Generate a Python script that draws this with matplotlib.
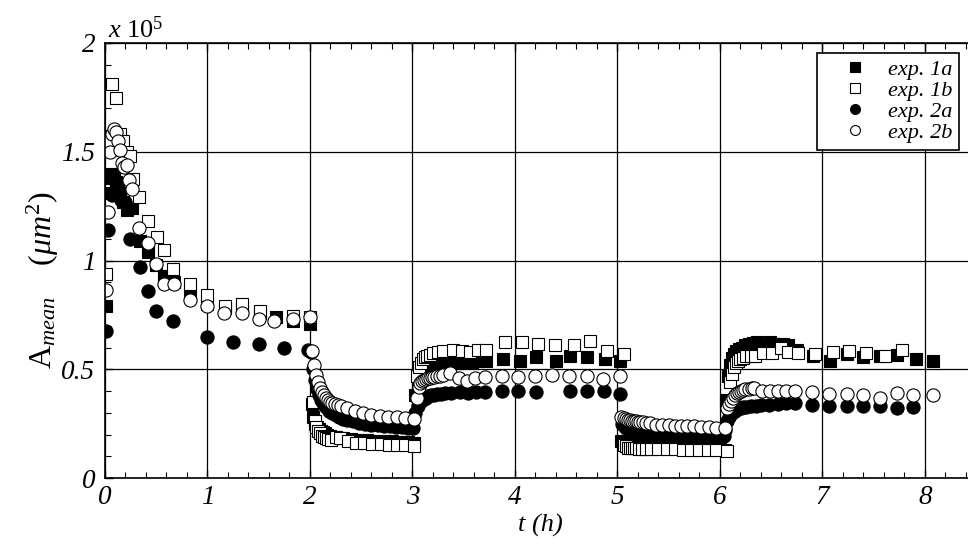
import matplotlib
matplotlib.use("Agg")
import matplotlib.pyplot as plt
from matplotlib.ticker import MultipleLocator, FormatStrFormatter

# mean cell area, in units of 1e5 um^2, vs time (h)
t_1a = [0.01, 0.03, 0.05, 0.07, 0.09, 0.11, 0.13, 0.15, 0.18, 0.21, 0.26, 0.34, 0.42, 0.50,
        0.58, 0.67, 0.83, 1.00, 1.17, 1.34, 1.51, 1.67, 1.83, 2.00,
        2.02, 2.03, 2.05, 2.07, 2.09, 2.11, 2.13, 2.15, 2.17, 2.20, 2.23, 2.27, 2.32, 2.40,
        2.48, 2.56, 2.64, 2.72, 2.80, 2.88, 2.96, 3.02,
        3.03, 3.05, 3.07, 3.09, 3.11, 3.13, 3.16, 3.19, 3.22, 3.26, 3.30, 3.35, 3.40, 3.46,
        3.52, 3.58, 3.64, 3.72, 3.88, 4.05, 4.21, 4.40, 4.54, 4.70, 4.88, 5.03,
        5.04, 5.06, 5.08, 5.10, 5.12, 5.15, 5.18, 5.21, 5.25, 5.30, 5.36, 5.44, 5.52, 5.60,
        5.68, 5.76, 5.84, 5.92, 6.00, 6.05,
        6.06, 6.08, 6.10, 6.12, 6.14, 6.16, 6.19, 6.22, 6.25, 6.28, 6.32, 6.36, 6.40, 6.45,
        6.49, 6.55, 6.62, 6.67, 6.75, 6.91, 7.08, 7.24, 7.40, 7.56, 7.73, 7.91, 8.08]
a_1a = [0.79, 1.31, 1.38, 1.40, 1.38, 1.36, 1.34, 1.31, 1.27, 1.23, 1.24, 1.09, 1.04, 0.98,
        0.93, 0.90, 0.84, 0.80, 0.78, 0.78, 0.76, 0.74, 0.72, 0.71,
        0.34, 0.28, 0.25, 0.235, 0.225, 0.215, 0.21, 0.205, 0.20, 0.195, 0.19, 0.185, 0.182, 0.178,
        0.175, 0.173, 0.171, 0.17, 0.168, 0.166, 0.165, 0.163,
        0.38, 0.44, 0.47, 0.49, 0.50, 0.51, 0.515, 0.52, 0.52, 0.525, 0.525, 0.53, 0.53, 0.53,
        0.535, 0.535, 0.54, 0.54, 0.545, 0.54, 0.555, 0.54, 0.56, 0.555, 0.545, 0.54,
        0.17, 0.16, 0.155, 0.155, 0.15, 0.15, 0.15, 0.148, 0.147, 0.146, 0.145, 0.145, 0.145, 0.144,
        0.143, 0.14, 0.14, 0.138, 0.14, 0.13,
        0.36, 0.47, 0.52, 0.55, 0.57, 0.585, 0.595, 0.60, 0.61, 0.615, 0.62, 0.625, 0.62, 0.62,
        0.625, 0.615, 0.615, 0.61, 0.59, 0.56, 0.54, 0.57, 0.555, 0.56, 0.565, 0.545, 0.54]

t_1b = [0.01, 0.04, 0.07, 0.11, 0.15, 0.18, 0.21, 0.24, 0.27, 0.33, 0.42, 0.51, 0.58, 0.66,
        0.83, 1.00, 1.17, 1.34, 1.51, 1.83, 2.00,
        2.03, 2.05, 2.06, 2.08, 2.10, 2.12, 2.14, 2.16, 2.18, 2.21, 2.25, 2.29, 2.37, 2.45,
        2.53, 2.61, 2.69, 2.77, 2.85, 2.93, 3.02,
        3.04, 3.06, 3.08, 3.10, 3.12, 3.14, 3.17, 3.20, 3.25, 3.30, 3.40, 3.48, 3.56, 3.64,
        3.72, 3.90, 4.07, 4.23, 4.39, 4.58, 4.73, 4.90, 5.06,
        5.06, 5.08, 5.10, 5.12, 5.14, 5.16, 5.18, 5.21, 5.24, 5.28, 5.33, 5.40, 5.48, 5.56,
        5.64, 5.72, 5.80, 5.88, 5.96, 6.07,
        6.10, 6.12, 6.14, 6.16, 6.18, 6.20, 6.23, 6.26, 6.30, 6.34, 6.42, 6.51, 6.60, 6.67,
        6.76, 6.93, 7.10, 7.26, 7.43, 7.61, 7.78]
a_1b = [0.94, 1.55, 1.81, 1.745, 1.58, 1.55, 1.50, 1.48, 1.375, 1.29, 1.18, 1.11, 1.05, 0.96,
        0.89, 0.84, 0.79, 0.80, 0.77, 0.745, 0.74,
        0.35, 0.26, 0.235, 0.215, 0.205, 0.195, 0.19, 0.185, 0.18, 0.175, 0.19, 0.183, 0.168, 0.163,
        0.16, 0.157, 0.155, 0.153, 0.152, 0.15, 0.148,
        0.47, 0.51, 0.53, 0.545, 0.555, 0.56, 0.565, 0.575, 0.58, 0.585, 0.59, 0.585, 0.58, 0.59,
        0.59, 0.625, 0.625, 0.615, 0.61, 0.61, 0.63, 0.585, 0.57,
        0.15, 0.145, 0.14, 0.14, 0.138, 0.137, 0.136, 0.135, 0.135, 0.134, 0.133, 0.133, 0.132, 0.132,
        0.131, 0.13, 0.13, 0.13, 0.128, 0.126,
        0.44, 0.48, 0.51, 0.53, 0.54, 0.545, 0.55, 0.56, 0.56, 0.56, 0.575, 0.575, 0.60, 0.58,
        0.575, 0.57, 0.58, 0.585, 0.575, 0.56, 0.59]

t_2a = [0.01, 0.03, 0.07, 0.11, 0.16, 0.20, 0.24, 0.34, 0.42, 0.50, 0.66, 1.00, 1.25, 1.50,
        1.75, 1.98,
        2.01, 2.03, 2.05, 2.07, 2.09, 2.11, 2.13, 2.15, 2.17, 2.19, 2.22, 2.25, 2.28, 2.32,
        2.36, 2.42, 2.48, 2.54, 2.60, 2.66, 2.72, 2.78, 2.84, 2.90, 2.96, 3.01,
        3.03, 3.05, 3.07, 3.09, 3.11, 3.13, 3.15, 3.18, 3.21, 3.24, 3.28, 3.32, 3.38, 3.46,
        3.54, 3.62, 3.71, 3.87, 4.03, 4.21, 4.54, 4.70, 4.87, 5.03,
        5.05, 5.07, 5.09, 5.11, 5.13, 5.15, 5.17, 5.20, 5.23, 5.26, 5.30, 5.35, 5.40, 5.46,
        5.52, 5.58, 5.64, 5.70, 5.76, 5.82, 5.88, 5.94, 6.00, 6.04,
        6.05, 6.07, 6.09, 6.11, 6.13, 6.15, 6.17, 6.19, 6.21, 6.23, 6.26, 6.30, 6.35, 6.40,
        6.48, 6.57, 6.65, 6.73, 6.90, 7.07, 7.24, 7.40, 7.56, 7.73, 7.89]
a_2a = [0.675, 1.14, 1.30, 1.33, 1.28, 1.27, 1.10, 0.97, 0.86, 0.77, 0.72, 0.65, 0.625, 0.615,
        0.60, 0.59,
        0.58, 0.50, 0.45, 0.41, 0.38, 0.36, 0.345, 0.33, 0.32, 0.31, 0.30, 0.29, 0.28, 0.27,
        0.265, 0.26, 0.255, 0.25, 0.245, 0.243, 0.24, 0.237, 0.235, 0.233, 0.23, 0.23,
        0.30, 0.33, 0.35, 0.36, 0.365, 0.37, 0.375, 0.38, 0.38, 0.385, 0.385, 0.39, 0.39, 0.395,
        0.39, 0.395, 0.395, 0.40, 0.40, 0.395, 0.40, 0.40, 0.40, 0.385,
        0.25, 0.235, 0.225, 0.22, 0.215, 0.212, 0.21, 0.208, 0.206, 0.205, 0.204, 0.203, 0.202, 0.20,
        0.20, 0.20, 0.198, 0.198, 0.197, 0.197, 0.196, 0.195, 0.196, 0.195,
        0.22, 0.26, 0.28, 0.295, 0.305, 0.31, 0.315, 0.32, 0.32, 0.325, 0.325, 0.33, 0.33, 0.335,
        0.335, 0.34, 0.345, 0.345, 0.335, 0.33, 0.33, 0.33, 0.33, 0.32, 0.325]

t_2b = [0.01, 0.03, 0.05, 0.07, 0.09, 0.11, 0.13, 0.15, 0.17, 0.19, 0.21, 0.23, 0.26, 0.33,
        0.42, 0.50, 0.58, 0.67, 0.83, 1.00, 1.16, 1.34, 1.50, 1.65, 1.83, 2.00,
        2.02, 2.04, 2.06, 2.08, 2.10, 2.12, 2.14, 2.16, 2.18, 2.20, 2.22, 2.24, 2.27, 2.30,
        2.36, 2.44, 2.52, 2.60, 2.68, 2.76, 2.85, 2.93, 3.02,
        3.04, 3.06, 3.07, 3.09, 3.11, 3.13, 3.15, 3.17, 3.19, 3.21, 3.24, 3.27, 3.30, 3.37,
        3.45, 3.53, 3.61, 3.71, 3.87, 4.03, 4.20, 4.36, 4.53, 4.70, 4.86, 5.03,
        5.04, 5.06, 5.08, 5.10, 5.12, 5.14, 5.16, 5.18, 5.20, 5.22, 5.25, 5.28, 5.32, 5.38,
        5.44, 5.50, 5.56, 5.62, 5.68, 5.75, 5.82, 5.89, 5.96, 6.05,
        6.07, 6.09, 6.11, 6.13, 6.15, 6.17, 6.19, 6.21, 6.23, 6.25, 6.28, 6.31, 6.33, 6.41,
        6.49, 6.57, 6.65, 6.73, 6.90, 7.07, 7.24, 7.40, 7.56, 7.73, 7.89, 8.08]
a_2b = [0.865, 1.225, 1.50, 1.58, 1.605, 1.59, 1.55, 1.51, 1.45, 1.43, 1.44, 1.37, 1.33, 1.15,
        1.08, 0.985, 0.89, 0.89, 0.82, 0.79, 0.76, 0.76, 0.73, 0.72, 0.73, 0.74,
        0.585, 0.52, 0.475, 0.44, 0.415, 0.395, 0.38, 0.37, 0.36, 0.35, 0.345, 0.34, 0.335, 0.33,
        0.32, 0.31, 0.30, 0.29, 0.285, 0.28, 0.28, 0.275, 0.27,
        0.37, 0.42, 0.435, 0.445, 0.45, 0.455, 0.46, 0.46, 0.465, 0.465, 0.47, 0.47, 0.475, 0.485,
        0.46, 0.445, 0.46, 0.465, 0.47, 0.465, 0.47, 0.475, 0.47, 0.47, 0.455, 0.47,
        0.28, 0.275, 0.27, 0.268, 0.265, 0.263, 0.26, 0.26, 0.258, 0.257, 0.256, 0.255, 0.255, 0.245,
        0.243, 0.242, 0.24, 0.24, 0.238, 0.237, 0.235, 0.233, 0.232, 0.23,
        0.32, 0.34, 0.355, 0.37, 0.38, 0.39, 0.395, 0.40, 0.405, 0.41, 0.41, 0.415, 0.415, 0.40,
        0.40, 0.40, 0.40, 0.40, 0.395, 0.385, 0.385, 0.38, 0.37, 0.39, 0.38, 0.38]

labels = ["exp. 1a", "exp. 1b", "exp. 2a", "exp. 2b"]

plt.rcParams["font.family"] = ["Liberation Serif", "DejaVu Serif"]
plt.rcParams["font.style"] = "italic"
plt.rcParams["mathtext.fontset"] = "custom"
plt.rcParams["mathtext.rm"] = "Liberation Serif:style=normal"
plt.rcParams["mathtext.it"] = "Liberation Serif:style=italic"

fig = plt.figure(figsize=(9.68, 5.44), dpi=100)
# axes runs a little past the right edge, as in the cropped original
ax = fig.add_axes([105 / 968, 1 - 478 / 544, 871 / 968, 435 / 544])

ms = 9.5
ax.plot(t_1a, a_1a, "s", ms=ms - 0.5, mfc="black", mec="black", mew=0.8, label=labels[0])
ax.plot(t_1b, a_1b, "s", ms=ms - 0.5, mfc="white", mec="black", mew=0.8, label=labels[1])
ax.plot(t_2a, a_2a, "o", ms=ms, mfc="black", mec="black", mew=0.8, label=labels[2])
ax.plot(t_2b, a_2b, "o", ms=ms, mfc="white", mec="black", mew=0.8, label=labels[3])

ax.set_xlim(0, 8.5)
ax.set_ylim(0, 2)
ax.xaxis.set_major_locator(MultipleLocator(1))
ax.xaxis.set_minor_locator(MultipleLocator(0.2))
ax.yaxis.set_major_locator(MultipleLocator(0.5))
ax.yaxis.set_minor_locator(MultipleLocator(0.1))
ax.yaxis.set_major_formatter(FormatStrFormatter("%g"))
ax.tick_params(which="both", direction="in", top=True, right=True, labelsize=19.5)
ax.tick_params(axis="x", pad=5)
ax.tick_params(axis="y", pad=7)
ax.tick_params(which="major", length=6, width=1)
ax.tick_params(which="minor", length=4, width=0.8)
ax.grid(True, which="major", color="black", linewidth=0.9)
ax.set_axisbelow(True)
for sp in ax.spines.values():
    sp.set_linewidth(1.2)

ax.set_xlabel("t (h)", fontsize=19, labelpad=3)
ax.set_ylabel(r"$\mathrm{A}_{mean}\ \ \ \ (\mu m^2)$", fontsize=23)
ax.yaxis.set_label_coords(-0.05, 0.455)
ax.text(0.003, 1.0, r"$\mathit{x\ 10}^{\mathit{5}}$", transform=ax.transAxes, fontsize=19,
        ha="left", va="bottom")

leg = ax.legend(loc="upper left", bbox_to_anchor=((817 - 105) / 871, 1 - 10 / 435),
                fontsize=16, markerscale=0.75, frameon=True, fancybox=False,
                edgecolor="black", framealpha=1, borderpad=0.3, labelspacing=0.02,
                handlelength=2.8, handletextpad=0.1, borderaxespad=0)
leg.get_frame().set_linewidth(1.2)

fig.savefig("out.png", dpi=100)
